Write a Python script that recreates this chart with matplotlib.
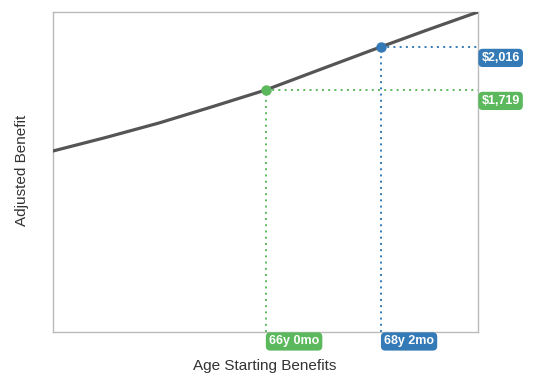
import numpy as np
import matplotlib
matplotlib.use('Agg')
import matplotlib.pyplot as plt
import matplotlib.transforms as mtransforms

# benefit curve, one point per year of starting age
ages = [62, 63, 64, 65, 66, 67, 68, 69, 70]
benefits = [1298, 1392, 1492, 1604, 1719, 1857, 1994, 2128, 2258]

# highlighted points: (age in years, age label, benefit, benefit label, colour)
marks = [
    (66.0, '66y 0mo', 1719, '$1,719', '#5cb85c'),
    (68 + 2 / 12., '68y 2mo', 2016, '$2,016', '#337ab7'),
]

plt.rcParams['font.family'] = ['Liberation Sans', 'DejaVu Sans']

fig = plt.figure(figsize=(5.4, 3.84), dpi=100)
ax = fig.add_axes([53 / 540., 1 - 332 / 384., 425 / 540., 320 / 384.])

ax.plot(ages, benefits, color='#555555', lw=2.3, solid_capstyle='round', zorder=3)
ax.set_xlim(62, 70)
ax.set_ylim(48, 2258)

bt_x = mtransforms.blended_transform_factory(ax.transData, ax.transAxes)
bt_y = mtransforms.blended_transform_factory(ax.transAxes, ax.transData)

for age, alabel, val, vlabel, col in marks:
    ax.plot([age, 70], [val, val], color=col, lw=1.4, ls=(0, (1, 2.2)), zorder=2, clip_on=False)
    ax.plot([age, age], [48, val], color=col, lw=1.4, ls=(0, (1, 2.2)), zorder=2, clip_on=False)
    ax.plot(age, val, 'o', color=col, ms=6.5, zorder=4)
    box = dict(boxstyle='round,pad=0.25,rounding_size=0.35', fc=col, ec='none')
    ax.annotate(vlabel, xy=(1, val), xycoords=bt_y, xytext=(2.5, -3.5), textcoords='offset points',
                ha='left', va='top', color='white', fontsize=9, fontweight='bold',
                bbox=box, annotation_clip=False)
    ax.annotate(alabel, xy=(age, 0), xycoords=bt_x, xytext=(2.5, -2.5), textcoords='offset points',
                ha='left', va='top', color='white', fontsize=9, fontweight='bold',
                bbox=box, annotation_clip=False)

for s in ax.spines.values():
    s.set_color('#bbbbbb')
    s.set_linewidth(1.0)
ax.set_xticks([])
ax.set_yticks([])

fig.text(265 / 540., 1 - 366 / 384., 'Age Starting Benefits', ha='center', va='center',
         fontsize=11, color='#333333')
fig.text(22 / 540., 1 - 170 / 384., 'Adjusted Benefit', ha='center', va='center',
         rotation=90, fontsize=11, color='#333333')

fig.savefig('out.png', dpi=100)
